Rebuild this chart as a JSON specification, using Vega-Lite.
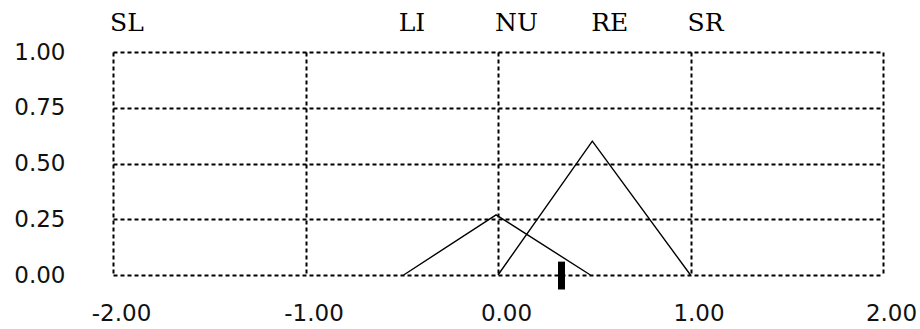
{
  "$schema": "https://vega.github.io/schema/vega-lite/v6.json",
  "width": 770,
  "height": 223,
  "autosize": {"type": "none"},
  "padding": {"left": 113, "top": 52, "right": 37, "bottom": 54},
  "background": "white",
  "config": {"view": {"stroke": null}},
  "datasets": {
    "sets": [
      {"set": "NU", "x": -0.49, "y": 0},
      {"set": "NU", "x": -0.01, "y": 0.27},
      {"set": "NU", "x": 0.48, "y": 0},
      {"set": "RE", "x": 0.0, "y": 0},
      {"set": "RE", "x": 0.49, "y": 0.6},
      {"set": "RE", "x": 1.0, "y": 0}
    ],
    "labels": [
      {"label": "SL", "x": -2},
      {"label": "LI", "x": -0.5},
      {"label": "NU", "x": 0},
      {"label": "RE", "x": 0.5},
      {"label": "SR", "x": 1}
    ],
    "marker": [{"x": 0.33}]
  },
  "layer": [
    {
      "data": {"name": "sets"},
      "mark": {"type": "line", "color": "black", "strokeWidth": 1.4},
      "encoding": {
        "x": {
          "field": "x", "type": "quantitative",
          "scale": {"domain": [-2, 2], "nice": false, "zero": false},
          "axis": {
            "title": null, "values": [-2, -1, 0, 1, 2], "format": ".2f",
            "labelExpr": "replace(datum.label, '\u2212', '-')",
            "grid": true, "gridColor": "black", "gridDash": [4, 3], "gridWidth": 2, "gridOpacity": 1,
            "domain": false, "ticks": false,
            "labelFont": "DejaVu Sans", "labelFontSize": 23, "labelColor": "#111",
            "labelPadding": 27, "labelOffset": 8, "labelFlush": false
          }
        },
        "y": {
          "field": "y", "type": "quantitative",
          "scale": {"domain": [0, 1], "nice": false},
          "axis": {
            "title": null, "values": [0, 0.25, 0.5, 0.75, 1], "format": ".2f",
            "grid": true, "gridColor": "black", "gridDash": [4, 3], "gridWidth": 2, "gridOpacity": 1,
            "domain": false, "ticks": false,
            "labelFont": "DejaVu Sans", "labelFontSize": 23, "labelColor": "#111",
            "labelPadding": 48, "labelFlush": false
          }
        },
        "detail": {"field": "set"}
      }
    },
    {
      "mark": {"type": "rule", "color": "#222", "strokeWidth": 2},
      "encoding": {
        "x": {"datum": -2, "type": "quantitative"},
        "x2": {"datum": 2},
        "y": {"datum": 0, "type": "quantitative"}
      }
    },
    {
      "data": {"name": "marker"},
      "mark": {"type": "rule", "color": "black", "strokeWidth": 7},
      "encoding": {
        "x": {"field": "x", "type": "quantitative"},
        "y": {"datum": 0.06, "type": "quantitative"},
        "y2": {"datum": -0.065}
      }
    },
    {
      "data": {"name": "labels"},
      "mark": {"type": "text", "align": "left", "baseline": "middle", "dx": -3, "dy": -29, "font": "DejaVu Serif", "fontSize": 25, "color": "black"},
      "encoding": {
        "x": {"field": "x", "type": "quantitative"},
        "y": {"datum": 1, "type": "quantitative"},
        "text": {"field": "label"}
      }
    }
  ]
}
